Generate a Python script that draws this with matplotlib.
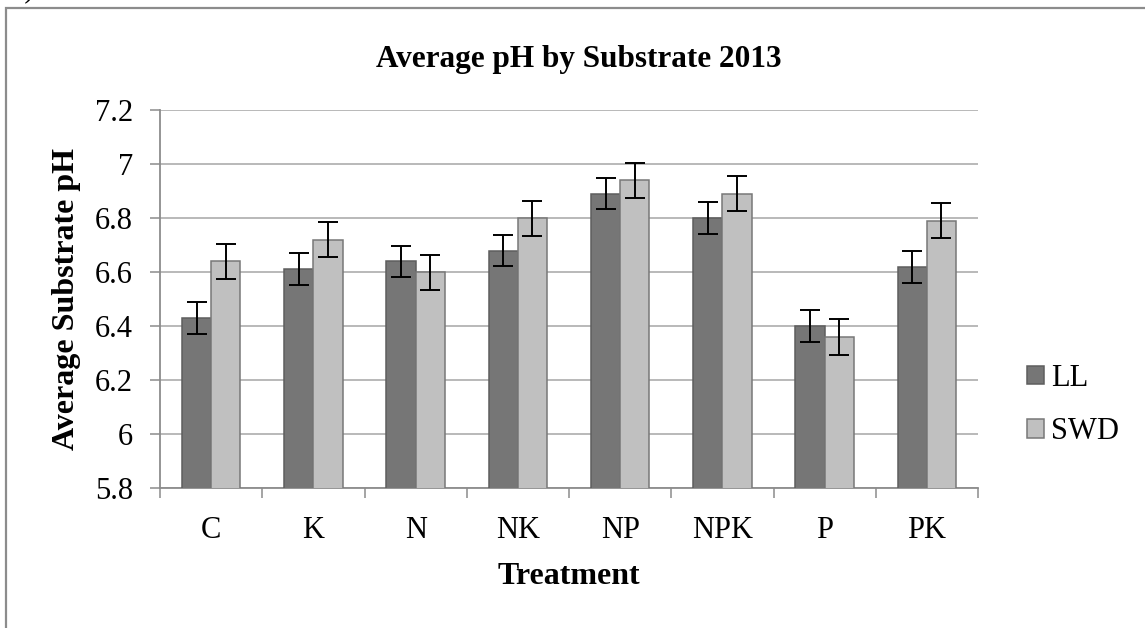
import numpy as np
import matplotlib.pyplot as plt
from matplotlib.patches import Rectangle

plt.rcParams['font.family'] = ['Liberation Serif', 'DejaVu Serif']

treatments = ['C', 'K', 'N', 'NK', 'NP', 'NPK', 'P', 'PK']
ll_ph = [6.43, 6.61, 6.64, 6.68, 6.89, 6.80, 6.40, 6.62]
swd_ph = [6.64, 6.72, 6.60, 6.80, 6.94, 6.89, 6.36, 6.79]
ll_err = [0.058, 0.059, 0.058, 0.058, 0.058, 0.059, 0.058, 0.059]
swd_err = [0.065, 0.064, 0.065, 0.065, 0.065, 0.065, 0.065, 0.065]
y_ticks = [5.8, 6.0, 6.2, 6.4, 6.6, 6.8, 7.0, 7.2]
y_labels = ['5.8', '6', '6.2', '6.4', '6.6', '6.8', '7', '7.2']

W, H = 1145, 628
fig = plt.figure(figsize=(W / 100, H / 100), dpi=100)

# outer frame of the chart area (runs off right/bottom)
fig.patches.append(Rectangle((6 / W, -0.05), 1.1, 1 - 8 / H + 0.05,
                             transform=fig.transFigure, fill=False,
                             edgecolor='#8c8c8c', linewidth=1.6))
fig.text(4 / W, 1 - 3 / H, 'B)', fontsize=22, ha='left', va='bottom')

ax = fig.add_axes([160 / W, 1 - 488.3 / H, (978 - 160) / W, (488.3 - 110) / H])

x = np.arange(len(treatments)) + 0.5
w = 1 / 3.5
err_kw = dict(ecolor='black', elinewidth=1.4, capsize=7.5, capthick=1.4)
ax.bar(x - w / 2, ll_ph, w, yerr=ll_err, color='#767676', edgecolor='#5e5e5e',
       linewidth=1.1, label='LL', error_kw=err_kw, zorder=3)
ax.bar(x + w / 2, swd_ph, w, yerr=swd_err, color='#c0c0c0', edgecolor='#787878',
       linewidth=1.1, label='SWD', error_kw=err_kw, zorder=3)

ax.set_xlim(0, len(treatments))
ax.set_ylim(5.8, 7.2)
ax.set_yticks(y_ticks)
ax.set_yticklabels(y_labels)
ax.yaxis.grid(True, color='#a6a6a6', linewidth=1.1, zorder=0)
ax.set_axisbelow(True)

ax.set_xticks(np.arange(len(treatments) + 1))
ax.set_xticklabels([])
ax.set_xticks(x, minor=True)
ax.set_xticklabels(treatments, minor=True)
ax.tick_params(axis='x', which='major', length=7, width=1.1, color='#8c8c8c', direction='out')
ax.tick_params(axis='x', which='minor', length=0, pad=20, labelsize=22)
ax.tick_params(axis='y', length=7.5, width=1.1, color='#8c8c8c', pad=12, labelsize=22)

for s in ['top', 'right']:
    ax.spines[s].set_visible(False)
for s in ['left', 'bottom']:
    ax.spines[s].set_color('#8c8c8c')
    ax.spines[s].set_linewidth(1.3)

ax.set_ylabel('Average Substrate pH', fontsize=23, fontweight='bold')
ax.yaxis.set_label_coords((67 - 160) / 818, 0.5)
ax.yaxis.label.set_va('center')
ax.set_xlabel('Treatment', fontsize=23, fontweight='bold')
ax.xaxis.set_label_coords((569 - 160) / 818, (488.3 - 577) / 378.3)
ax.xaxis.label.set_va('center')

fig.text(579 / W, 1 - 60 / H, 'Average pH by Substrate 2013', fontsize=22.5,
         fontweight='bold', ha='center', va='center')

ax.legend(loc='center left', bbox_to_anchor=(1027 / W, 1 - 405 / H),
          bbox_transform=fig.transFigure, frameon=False, fontsize=22,
          handlelength=0.55, handleheight=0.55, handletextpad=0.25,
          labelspacing=0.8, borderaxespad=0, borderpad=0)

fig.savefig('out.png', dpi=100)
